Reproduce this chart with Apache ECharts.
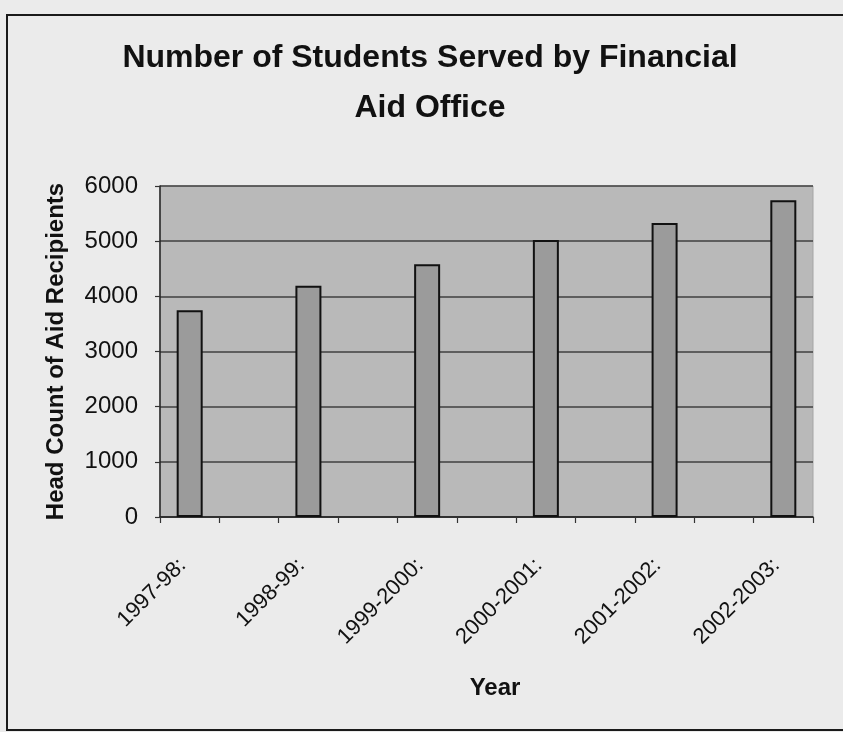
<!DOCTYPE html>
<html>
<head>
<meta charset="utf-8">
<title>Number of Students Served by Financial Aid Office</title>
<script src="https://cdn.jsdelivr.net/npm/echarts@6/dist/echarts.min.js"></script>
<style>
  html, body { margin: 0; padding: 0; background: #ebebeb; }
  #chart { width: 843px; height: 732px; }
</style>
</head>
<body>
<div id="chart"></div>
<script>
// Academic years and head counts of aid recipients
const years = ['1997-98:', '1998-99:', '1999-2000:', '2000-2001:', '2001-2002:', '2002-2003:'];
const recipients = [3750, 4190, 4580, 5020, 5330, 5740];
const yTicks = { min: 0, max: 6000, step: 1000 };

// Each year sits in its own slot with an empty slot between neighbours
const slotLabels = [];
const slotValues = [];
years.forEach((y, i) => {
  if (i > 0) { slotLabels.push(''); slotValues.push('-'); }
  slotLabels.push(y);
  slotValues.push(recipients[i]);
});

const FONT = "'Liberation Sans', Arial, Helvetica, sans-serif";
const chart = echarts.init(document.getElementById('chart'), null, { renderer: 'canvas' });

chart.setOption({
  backgroundColor: '#ebebeb',
  animation: false,
  title: {
    text: 'Number of Students Served by Financial\nAid Office',
    left: 430,
    top: 33,
    textAlign: 'center',
    padding: 0,
    textStyle: {
      fontFamily: FONT,
      fontWeight: 'bold',
      fontSize: 32,
      lineHeight: 50,
      color: '#111'
    }
  },
  graphic: [{
    type: 'rect',
    z: -1,
    shape: { x: 7, y: 15, width: 900, height: 715 },
    style: { fill: 'none', stroke: '#1a1a1a', lineWidth: 2 }
  }],
  grid: {
    left: 160,
    right: 30,
    top: 186,
    bottom: 215,
    show: true,
    backgroundColor: '#b9b9b9',
    borderColor: '#a5a5a5',
    borderWidth: 1
  },
  xAxis: {
    type: 'category',
    data: slotLabels,
    boundaryGap: true,
    name: 'Year',
    nameLocation: 'middle',
    nameGap: 159,
    nameTextStyle: {
      fontFamily: FONT,
      fontWeight: 'bold',
      fontSize: 24,
      color: '#111',
      padding: [0, 0, 0, 17]
    },
    axisLine: { show: true, lineStyle: { color: '#222', width: 1.5 } },
    axisTick: { show: true, interval: 0, length: 6, lineStyle: { color: '#333', width: 1.2 } },
    axisLabel: {
      interval: 0,
      rotate: 45,
      margin: 38,
      padding: [0, 10, 0, 0],
      fontFamily: FONT,
      fontSize: 22,
      color: '#111'
    },
    splitLine: { show: false }
  },
  yAxis: {
    type: 'value',
    min: yTicks.min,
    max: yTicks.max,
    interval: yTicks.step,
    name: 'Head Count of Aid Recipients',
    nameLocation: 'middle',
    nameGap: 92,
    nameRotate: 90,
    nameTextStyle: {
      fontFamily: FONT,
      fontWeight: 'bold',
      fontSize: 24,
      color: '#111'
    },
    axisLine: { show: true, lineStyle: { color: '#222', width: 1.5 } },
    axisTick: { show: true, length: 5, lineStyle: { color: '#333', width: 1.2 } },
    axisLabel: {
      margin: 22,
      fontFamily: FONT,
      fontSize: 24,
      color: '#111',
      formatter: (v) => String(v)
    },
    splitLine: { show: true, lineStyle: { color: '#404040', width: 1.5 } }
  },
  series: [{
    type: 'bar',
    data: slotValues,
    barWidth: 26,
    itemStyle: {
      color: '#9b9b9b',
      borderColor: '#111',
      borderWidth: 2
    }
  }]
});
</script>
</body>
</html>
